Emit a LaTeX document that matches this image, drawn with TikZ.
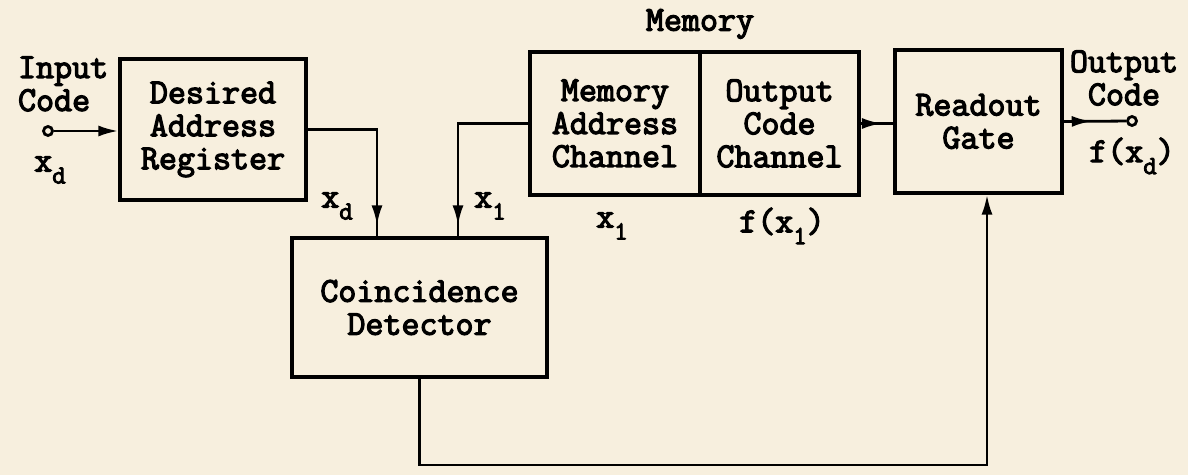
\documentclass[tikz,border=0pt]{standalone}
\usepackage{fontspec}
\setmonofont{Latin Modern Mono}[AutoFakeBold=3.5]
\usetikzlibrary{arrows.meta,decorations.markings}
\definecolor{papel}{RGB}{247,239,222}
\newcommand{\subtt}[1]{\raisebox{-6pt}{\fontsize{13}{13}\selectfont #1}}

\begin{document}
\begin{tikzpicture}[x=0.5pt, y=-0.5pt,
	font=\ttfamily\bfseries\fontsize{17.5}{16.5}\selectfont,
	bloque/.style={draw, line width=1.6pt, inner sep=0pt, align=center},
	linea/.style={line width=1.4pt},
	punta/.style={postaction={decorate}, decoration={markings, mark=at position #1 with {\arrow{Latex[length=10pt,width=5.5pt]}}}},
	borne/.style={circle, draw, fill=papel, line width=1.4pt, minimum size=4.5pt, inner sep=0pt}]

\fill[papel] (0,0) rectangle (1188,475);

% Bloques
\node[bloque, minimum width=93pt, minimum height=70.5pt] (reg) at (213,129.5) {Desired\\Address\\Register};
\node[bloque, minimum width=85pt, minimum height=71.5pt] (dir) at (615,123.5) {Memory\\Address\\Channel};
\node[bloque, minimum width=79.5pt, minimum height=71.5pt] (sal) at (779.5,123.5) {Output\\Code\\Channel};
\node[bloque, minimum width=83.5pt, minimum height=71.5pt] (lec) at (978.5,121.5) {Readout\\Gate};
\node[bloque, minimum width=127.5pt, minimum height=69.5pt] (coi) at (419.5,307.5) {Coincidence\\Detector};

\node (mem) at (700,24) {Memory};

% Bornes
\node[borne] (in) at (48,131) {};
\node[borne] (out) at (1132,121) {};
\node[align=left, anchor=west] (ent) at (11,84) {Input\\Code};
\node[align=center] (sald) at (1124,78) {Output\\Code};

% Rotulos
\node (xin) at (50,170) {x\subtt{d}};
\node (xd) at (337,206) {x\subtt{d}};
\node (xi) at (490,206) {x\subtt{1}};
\node (xm) at (612,226) {x\subtt{1}};
\node (fxi) at (782,226) {f(x\subtt{1})};
\node (fxd) at (1132,156) {f(x\subtt{d})};

% Conexiones
\coordinate (cd) at (377,129.5);
\coordinate (ci) at (458,123.5);
\coordinate (cg) at (987,465);

\draw[linea, -{Latex[length=10pt,width=5.5pt]}] (in) -- (in -| reg.west);
\draw[linea, punta=-5.5pt] (reg.east) -- (cd) -- (cd |- coi.north);
\draw[linea, punta=-5.5pt] (dir.west) -- (ci) -- (ci |- coi.north);
\draw[linea, punta=0.65] (sal.east) -- (sal.east -| lec.west);
\draw[linea, punta=0.45] (lec.east) -- (out);
\draw[linea, -{Latex[length=10pt,width=5.5pt]}] (coi.south) -- (coi.south |- cg) -- (cg) -- (cg |- lec.south);

\end{tikzpicture}
\end{document}
